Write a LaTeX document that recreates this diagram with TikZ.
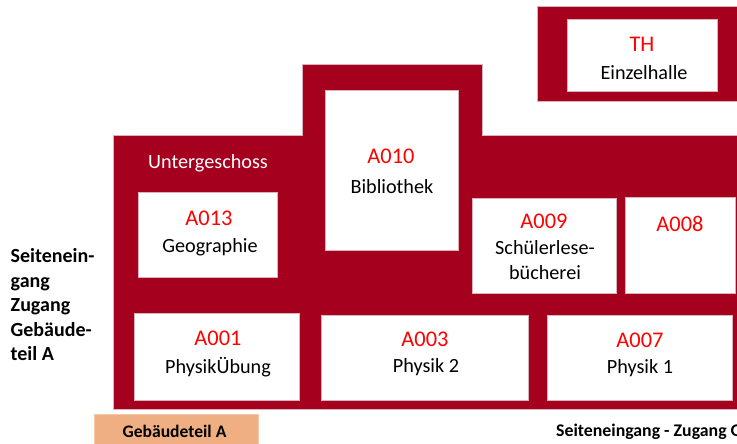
\documentclass[tikz,border=0pt]{standalone}
\usepackage{fontspec}
\setmainfont{Carlito}
\definecolor{wall}{HTML}{A5001E}
\definecolor{rednum}{HTML}{FF0000}
\definecolor{orangebar}{HTML}{F0AF82}
\definecolor{edgepale}{HTML}{D9B3BC}
\newcommand{\fsz}[1]{\fontsize{#1}{#1}\selectfont}
\tikzset{
  x=1pt,y=-1pt,
  wallshape/.style={fill=wall,draw=edgepale,line width=0.4pt},
  room/.style={fill=white,draw=edgepale,line width=0.5pt},
  num/.style={anchor=base,inner sep=0pt,text=rednum,font=\fsz{22.4},yshift=-0.8pt},
  lab/.style={anchor=base,inner sep=0pt,text=black,font=\fsz{20.2},yshift=-0.8pt},
  boldlab/.style={anchor=base west,inner sep=0pt,text=black,font=\bfseries\fsz{20}}
}
\begin{document}
\begin{tikzpicture}
\useasboundingbox (0,0) rectangle (737,444);
\clip (0,0) rectangle (737,444);
% walls
\path[wallshape] (113,135.5) -- (302,135.5) -- (302,64.5) -- (482,64.5) -- (482,135.5) -- (740,135.5) -- (740,409.5) -- (113,409.5) -- cycle;
\path[wallshape] (537.5,6) -- (740,6) -- (740,101) -- (537.5,101) -- cycle;
% rooms
\path[room] (567,19.5) rectangle (717,91.5);
\path[room] (325,90) rectangle (458.5,250);
\path[room] (138,192.5) rectangle (277.5,277);
\path[room] (472.5,198.5) rectangle (616,293.5);
\path[room] (625,197.5) rectangle (735,293);
\path[room] (134,313.5) rectangle (299,400);
\path[room] (321,315) rectangle (528,400);
\path[room] (547,315.5) rectangle (732,400);
\path[fill=orangebar,draw=orangebar!70!white,line width=0.5pt] (94,414) rectangle (258,446);
% labels
\node[num] (thn) at (642,51) {TH};
\node[lab] (thl) at (644,79) {Einzelhalle};
\node[anchor=base,inner sep=0pt,text=white,font=\fsz{20.2},yshift=-0.8pt] (ug) at (208,168) {Untergeschoss};
\node[num] (a010n) at (391,163) {A010};
\node[lab] (a010l) at (392,193) {Bibliothek};
\node[num] (a013n) at (209,225) {A013};
\node[lab] (a013l) at (210,252) {Geographie};
\node[num] (a009n) at (544,228) {A009};
\node[lab] (a009l) at (545,254) {Schülerlese-};
\node[lab] (a009m) at (545,279) {bücherei};
\node[num] (a008n) at (680,231) {A008};
\node[num] (a001n) at (218,345) {A001};
\node[lab] (a001l) at (218,373) {PhysikÜbung};
\node[num] (a003n) at (425,346) {A003};
\node[lab] (a003l) at (426,372) {Physik 2};
\node[num] (a007n) at (640,347) {A007};
\node[lab] (a007l) at (640,373) {Physik 1};
\node[boldlab] (s1) at (10.5,262) {Seitenein-};
\node[boldlab] (s2) at (10.5,287) {gang};
\node[boldlab] (s3) at (10.5,311) {Zugang};
\node[boldlab] (s4) at (10.5,336) {Gebäude-};
\node[boldlab] (s5) at (10.5,360) {teil A};
\node[anchor=base,inner sep=0pt,font=\bfseries\fsz{17.6}] (ga) at (174.5,437) {Gebäudeteil A};
\node[anchor=base west,inner sep=0pt,font=\bfseries\fsz{17.8}] (sz) at (556,436) {Seiteneingang - Zugang G};
\end{tikzpicture}
\end{document}
